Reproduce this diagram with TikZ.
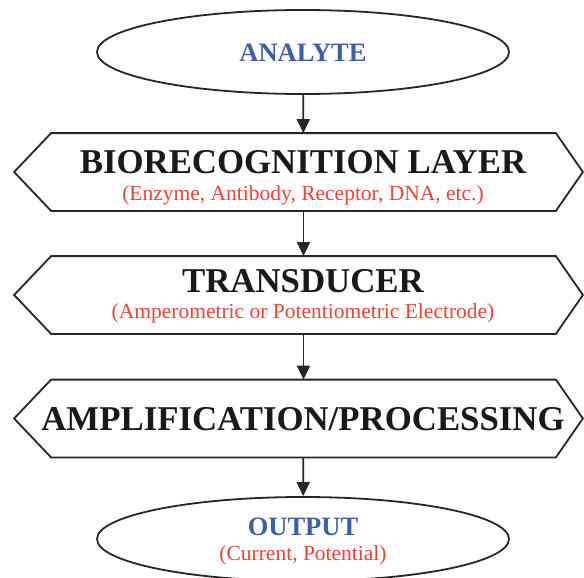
\documentclass[tikz,border=0pt]{standalone}
\usepackage{fontspec}
\setmainfont{Liberation Serif}
\usetikzlibrary{shapes.geometric,arrows.meta}
\definecolor{anablue}{RGB}{58,95,175}
\definecolor{subred}{RGB}{232,68,52}

\begin{document}
\begin{tikzpicture}[x=1pt, y=-1pt, line width=1.8pt, draw=black!85,
    >={Triangle[width=13pt,length=14pt]},
    oval/.style={draw, ellipse, minimum width=412pt, minimum height=84pt, inner sep=0},
    frame/.style={minimum width=503pt, minimum height=76pt, inner sep=0},
    head/.style={anchor=base, font=\fontsize{34.8}{40}\selectfont\bfseries, text=black!90},
    sub/.style={anchor=base, font=\fontsize{21.5}{25}\selectfont, text=subred},
    tag/.style={anchor=base, font=\fontsize{26.5}{30}\selectfont\bfseries, text=anablue}]
  \useasboundingbox (0,0) rectangle (584,578);
  % ovals and frames
  \node[oval] (ana) at (303,52) {};
  \node[frame] (bio) at (303.5,172) {};
  \node[frame] (trans) at (303.5,295) {};
  \node[frame] (amp) at (303.5,418.5) {};
  \node[oval] (out) at (303,539) {};
  \foreach \n in {bio,trans,amp}
    \draw[black!85] (\n.north west) -- ([xshift=-37pt]\n.west) -- (\n.south west)
      -- (\n.south east) -- ([xshift=27pt]\n.east) -- (\n.north east) -- cycle;
  % texts
  \node[tag] (ana-t) at (303,62) {ANALYTE};
  \node[head] (bio-t) at (303,173) {BIORECOGNITION LAYER};
  \node[sub] (bio-s) at (303,200) {(Enzyme, Antibody, Receptor, DNA, etc.)};
  \node[head] (trans-t) at (303,292) {TRANSDUCER};
  \node[sub] (trans-s) at (303,318) {(Amperometric or Potentiometric Electrode)};
  \node[head] (amp-t) at (303,430) {AMPLIFICATION/PROCESSING};
  \node[tag] (out-t) at (303,535) {OUTPUT};
  \node[sub] (out-s) at (303,560) {(Current, Potential)};
  % arrows
  \draw[->, black!85] (ana) -- (bio);
  \draw[->, black!85] (bio) -- (trans);
  \draw[->, black!85] (trans) -- (amp);
  \draw[->, black!85] (amp) -- (out);
\end{tikzpicture}
\end{document}
